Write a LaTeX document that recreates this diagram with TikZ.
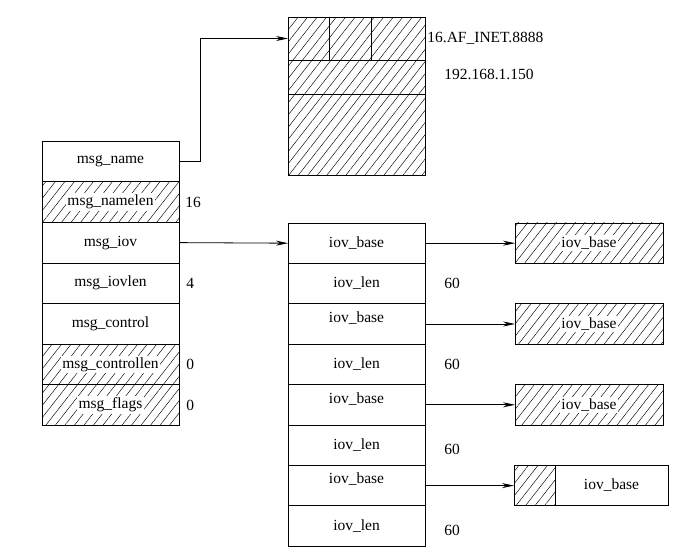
\documentclass[tikz,border=0pt]{standalone}
\usepackage{fontspec}
\setmainfont{Liberation Serif}
\usetikzlibrary{positioning, arrows.meta, patterns.meta}

\newcommand{\wbox}[1]{{\setlength{\fboxsep}{1.5pt}\colorbox{white}{#1}}}

\tikzset{
  cell/.style={draw, minimum width=137pt, minimum height=40.6pt, outer sep=0pt, inner sep=0pt},
  hatch/.style={pattern={Lines[angle=52, distance=7.5pt, line width=0.45pt]}},
  buf/.style={draw, minimum width=148pt, minimum height=40.5pt, outer sep=0pt, inner sep=0pt},
  val/.style={inner sep=0pt},
  ptr/.style={-{Stealth[length=12pt, width=5pt]}},
}

\begin{document}
\begin{tikzpicture}[x=1pt, y=-1pt, line width=0.8pt, font=\fontsize{15.5}{18}\selectfont]
  \useasboundingbox (0,0) rectangle (691,557);

  % sockaddr block
  \node[cell, hatch, minimum width=41pt, minimum height=43pt] (fam1) at (308.5,38.5) {};
  \node[cell, hatch, minimum width=42pt, minimum height=43pt, right=0pt of fam1] (fam2) {};
  \node[cell, hatch, minimum width=54pt, minimum height=43pt, right=0pt of fam2] (fam3) {};
  \node[cell, hatch, minimum height=34pt, below=0pt of fam1.south west, anchor=north west] (ip) {};
  \node[cell, hatch, minimum height=81pt, below=0pt of ip] (pad) {};
  \node[val, right=2pt of fam3] (famtxt) {16.AF\_INET.8888};
  \node[val, right=19pt of ip, yshift=3pt] (iptxt) {192.168.1.150};

  % msghdr
  \node[cell] (name) at (110.5,161.4) {msg\_name};
  \node[cell, hatch, below=0pt of name] (namelen) {\wbox{msg\_namelen}};
  \node[cell, below=0pt of namelen] (iov) {msg\_iov};
  \node[cell, below=0pt of iov] (iovlen) {msg\_iovlen};
  \node[cell, below=0pt of iovlen] (ctrl) {msg\_control};
  \node[cell, hatch, below=0pt of ctrl] (ctrllen) {\wbox{msg\_controllen}};
  \node[cell, hatch, below=0pt of ctrllen] (flags) {\wbox{msg\_flags}};

  \node[val, right=6pt of namelen] (v16) {16};
  \node[val, right=7pt of iovlen] (v4) {4};
  \node[val, right=7pt of ctrllen] (v0a) {0};
  \node[val, right=7pt of flags] (v0b) {0};

  % iovec array
  \node[cell, minimum height=40.4pt] (base1) at (356.5,243.2) {iov\_base};
  \node[cell, minimum height=40.4pt, below=0pt of base1] (len1) {iov\_len};
  \node[cell, minimum height=40.4pt, below=0pt of len1,
        label={[name=b2t, anchor=north, yshift=-4pt]north:iov\_base}] (base2) {};
  \node[cell, minimum height=40.4pt, below=0pt of base2] (len2) {iov\_len};
  \node[cell, minimum height=40.4pt, below=0pt of len2,
        label={[name=b3t, anchor=north, yshift=-4pt]north:iov\_base}] (base3) {};
  \node[cell, minimum height=40.4pt, below=0pt of base3] (len3) {iov\_len};
  \node[cell, minimum height=40.4pt, below=0pt of len3,
        label={[name=b4t, anchor=north, yshift=-4pt]north:iov\_base}] (base4) {};
  \node[cell, minimum height=40.4pt, below=0pt of base4] (len4) {iov\_len};

  \node[val, right=19pt of len1] (n1) {60};
  \node[val, right=19pt of len2] (n2) {60};
  \node[val, right=19pt of len3, yshift=-4pt] (n3) {60};
  \node[val, right=19pt of len4, yshift=-4pt] (n4) {60};

  % buffers
  \node[buf, hatch, right=90pt of base1] (buf1) {\wbox{iov\_base}};
  \node[buf, hatch, right=90pt of base2] (buf2) {\wbox{iov\_base}};
  \node[buf, hatch, right=90pt of base3] (buf3) {\wbox{iov\_base}};
  \node[buf, hatch, minimum width=41pt, right=89pt of base4] (buf4a) {};
  \node[buf, minimum width=113pt, right=0pt of buf4a] (buf4b) {iov\_base};

  % pointers
  \draw[ptr] (name.east) -- ++(21,0) |- (fam1.west);
  \draw[ptr] (iov.east) -- (base1.west);
  \draw[ptr] (base1.east) -- (buf1.west);
  \draw[ptr] (base2.east) -- (buf2.west);
  \draw[ptr] (base3.east) -- (buf3.west);
  \draw[ptr] (base4.east) -- (buf4a.west);
\end{tikzpicture}
\end{document}
